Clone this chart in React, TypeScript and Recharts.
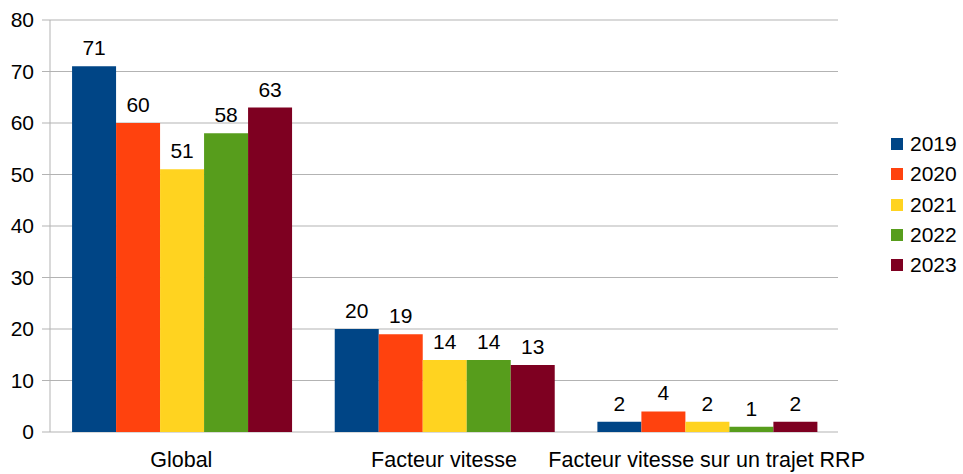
import React from 'react';
import {
  BarChart,
  Bar,
  XAxis,
  YAxis,
  CartesianGrid,
  LabelList,
  ReferenceLine,
} from 'recharts';

// categories and yearly series
const categories = ['Global', 'Facteur vitesse', 'Facteur vitesse sur un trajet RRP'];
const years = ['2019', '2020', '2021', '2022', '2023'];
const v2019 = [71, 20, 2];
const v2020 = [60, 19, 4];
const v2021 = [51, 14, 2];
const v2022 = [58, 14, 1];
const v2023 = [63, 13, 2];
const yTicks = [0, 10, 20, 30, 40, 50, 60, 70, 80];

const COLORS = [
  '#004586', // blue
  '#ff420e', // orange
  '#ffd320', // yellow
  '#579d1c', // green
  '#7e0021', // maroon
];

const GRID = '#b3b3b3';
const FONT = '"Liberation Sans", Arial, sans-serif';

const series = [v2019, v2020, v2021, v2022, v2023];

const chartData = categories.map((name, i) => {
  const row: { name: string; [key: string]: number | string } = { name };
  years.forEach((y, j) => {
    row[y] = series[j][i];
  });
  return row;
});

export default function App() {
  return (
    <div style={{ position: 'absolute', left: 0, top: 0, width: 963, height: 474, fontFamily: FONT }}>
      <BarChart
        width={963}
        height={474}
        data={chartData}
        margin={{ top: 20, right: 125, bottom: 0, left: 0 }}
        barCategoryGap="8.4%"
        barGap={0}
      >
        <CartesianGrid horizontal vertical={false} stroke={GRID} />
        <XAxis
          xAxisId="num"
          type="number"
          domain={[0, 3]}
          ticks={[0, 1, 2, 3]}
          tick={false}
          height={0}
          tickSize={11}
          tickLine={{ stroke: GRID }}
          axisLine={{ stroke: GRID }}
        />
        <XAxis
          xAxisId="cat"
          dataKey="name"
          height={42}
          axisLine={false}
          tickLine={false}
          tickSize={8}
          tickMargin={12}
          tick={{ fill: '#000', fontSize: 21.5, fontFamily: FONT }}
          interval={0}
        />
        <YAxis
          width={50}
          domain={[0, 80]}
          ticks={yTicks}
          tickSize={8}
          tickMargin={8}
          axisLine={{ stroke: GRID }}
          tickLine={{ stroke: GRID }}
          tick={{ fill: '#000', fontSize: 21, fontFamily: FONT }}
        />
        <ReferenceLine xAxisId="num" x={3} stroke={GRID} />
        {years.map((y, i) => (
          <Bar key={y} xAxisId="cat" dataKey={y} fill={COLORS[i]} isAnimationActive={false}>
            <LabelList
              dataKey={y}
              position="top"
              offset={11}
              fill="#000"
              fontSize={21}
              fontFamily={FONT}
            />
          </Bar>
        ))}
      </BarChart>

      {/* Legend, right side */}
      <div style={{ position: 'absolute', left: 891, top: 129 }}>
        {years.map((y, i) => (
          <div key={y} style={{ display: 'flex', alignItems: 'center', height: 30.3 }}>
            <div style={{ width: 12, height: 12, backgroundColor: COLORS[i], marginRight: 7 }} />
            <span style={{ fontSize: 21, color: '#000', lineHeight: '24px' }}>{y}</span>
          </div>
        ))}
      </div>
    </div>
  );
}
